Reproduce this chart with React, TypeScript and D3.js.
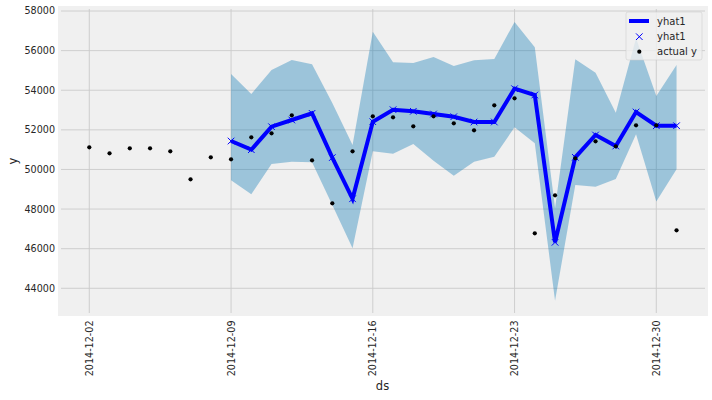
import { useEffect, useRef } from 'react';
import * as d3 from 'd3';

const width = 712;
const height = 400;
const margin = { top: 6, right: 4, bottom: 84, left: 58 };

const actualDates = d3.range(30).map((d) => new Date(Date.UTC(2014, 11, 2 + d)));
const actualY = [
  51118, 50815, 51068, 51068, 50916, 49503, 50613, 50512, 51623, 51825,
  52734, 50462, 48291, 50916, 52683, 52633, 52178, 52683, 52330, 51977,
  53239, 53592, 46776, 48695, 50563, 51421, 51169, 52229, 52229, 46928,
];
const forecastDates = actualDates.slice(7);
const yhat1 = [
  51436, 50997, 52158, 52497, 52835, 50600, 48520, 52411, 53017, 52936,
  52800, 52663, 52396, 52396, 54077, 53759, 46322, 50613, 51739, 51184,
  52901, 52209, 52209,
];
const yhatUpper = [
  54819, 53809, 55021, 55526, 55309, 53355, 51234, 56955, 55410, 55375,
  55677, 55223, 55511, 55576, 57445, 56167, 48050, 55561, 54885, 52865,
  56622, 53708, 55274,
];
const yhatLower = [
  49452, 48745, 50275, 50391, 50361, 48205, 46019, 50916, 50795, 51285,
  50442, 49684, 50391, 50644, 52128, 51320, 43373, 49215, 49129, 49518,
  51775, 48380, 50007,
];
const xTicks = [2, 9, 16, 23, 30].map((d) => new Date(Date.UTC(2014, 11, d)));
const yTicks = [44000, 46000, 48000, 50000, 52000, 54000, 56000, 58000];

const font = '"DejaVu Sans", sans-serif';
const grid = '#cbcbcb';

export default function App() {
  const svgRef = useRef<SVGSVGElement>(null);

  useEffect(() => {
    if (!svgRef.current) return;
    const svg = d3.select(svgRef.current);
    svg.selectAll('*').remove();

    const x = d3
      .scaleUtc()
      .domain([new Date(Date.UTC(2014, 11, 2)), new Date(Date.UTC(2014, 11, 30))])
      .range([89.3, 656.3]);
    const y = d3.scaleLinear().domain([44000, 58000]).range([288.3, 11]);

    const innerRight = width - margin.right;
    const innerBottom = height - margin.bottom;

    svg
      .append('rect')
      .attr('x', margin.left)
      .attr('y', margin.top)
      .attr('width', innerRight - margin.left)
      .attr('height', innerBottom - margin.top)
      .attr('fill', '#f0f0f0');

    // grid goes under the marks, the band is see-through
    const g = svg.append('g').attr('stroke', grid).attr('stroke-width', 0.9);
    g.selectAll('line.h')
      .data(yTicks)
      .join('line')
      .attr('x1', margin.left + 3)
      .attr('x2', innerRight - 3)
      .attr('y1', (d) => y(d))
      .attr('y2', (d) => y(d));
    g.selectAll('line.v')
      .data(xTicks)
      .join('line')
      .attr('x1', (d) => x(d))
      .attr('x2', (d) => x(d))
      .attr('y1', margin.top + 3)
      .attr('y2', innerBottom - 3);

    const area = d3
      .area<number>()
      .x((_, i) => x(forecastDates[i]))
      .y0((_, i) => y(yhatLower[i]))
      .y1((d) => y(d));
    svg
      .append('path')
      .attr('d', area(yhatUpper))
      .attr('fill', '#0072B2')
      .attr('fill-opacity', 0.35);

    const line = d3
      .line<number>()
      .x((_, i) => x(forecastDates[i]))
      .y((d) => y(d));
    svg
      .append('path')
      .attr('d', line(yhat1))
      .attr('fill', 'none')
      .attr('stroke', '#0000ff')
      .attr('stroke-width', 4);

    const cross = (sel: any, px: number, py: number, r: number) =>
      sel
        .append('path')
        .attr('d', `M${px - r},${py - r}L${px + r},${py + r}M${px - r},${py + r}L${px + r},${py - r}`)
        .attr('stroke', '#0000ff')
        .attr('stroke-width', 1)
        .attr('fill', 'none');

    yhat1.forEach((d, i) => cross(svg, x(forecastDates[i]), y(d), 3.3));

    svg
      .append('g')
      .selectAll('circle')
      .data(actualY)
      .join('circle')
      .attr('cx', (_, i) => x(actualDates[i]))
      .attr('cy', (d) => y(d))
      .attr('r', 2.1)
      .attr('fill', '#000');

    // axis labels
    const tickColor = '#262626';
    svg
      .append('g')
      .selectAll('text')
      .data(yTicks)
      .join('text')
      .attr('x', 55)
      .attr('y', (d) => y(d))
      .attr('dy', '0.36em')
      .attr('text-anchor', 'end')
      .attr('font-family', font)
      .attr('font-size', 9.6)
      .attr('fill', tickColor)
      .text((d) => String(d));

    svg
      .append('g')
      .selectAll('text')
      .data(xTicks)
      .join('text')
      .attr('transform', (d) => `translate(${x(d)},320.5) rotate(-90)`)
      .attr('dy', '0.36em')
      .attr('text-anchor', 'end')
      .attr('font-family', font)
      .attr('font-size', 9.6)
      .attr('fill', tickColor)
      .text((d) => d3.utcFormat('%Y-%m-%d')(d));

    svg
      .append('text')
      .attr('x', 382.5)
      .attr('y', 390)
      .attr('text-anchor', 'middle')
      .attr('font-family', font)
      .attr('font-size', 11.5)
      .attr('fill', tickColor)
      .text('ds');
    svg
      .append('text')
      .attr('transform', 'translate(17,161) rotate(-90)')
      .attr('text-anchor', 'middle')
      .attr('font-family', font)
      .attr('font-size', 11.5)
      .attr('fill', tickColor)
      .text('y');

    // legend
    const legend = svg.append('g').attr('transform', 'translate(626,12)');
    legend
      .append('rect')
      .attr('width', 76)
      .attr('height', 48)
      .attr('rx', 2)
      .attr('fill', '#f0f0f0')
      .attr('fill-opacity', 0.8)
      .attr('stroke', '#cccccc')
      .attr('stroke-opacity', 0.8)
      .attr('stroke-width', 0.7);
    legend
      .append('line')
      .attr('x1', 3)
      .attr('x2', 23)
      .attr('y1', 9)
      .attr('y2', 9)
      .attr('stroke', '#0000ff')
      .attr('stroke-width', 4);
    cross(legend, 13.3, 24.7, 3.3);
    legend.append('circle').attr('cx', 13.3).attr('cy', 39.7).attr('r', 2.1).attr('fill', '#000');
    ['yhat1', 'yhat1', 'actual y'].forEach((t, i) => {
      legend
        .append('text')
        .attr('x', 31)
        .attr('y', 9 + i * 15.2)
        .attr('dy', '0.36em')
        .attr('font-family', font)
        .attr('font-size', 10)
        .attr('fill', tickColor)
        .text(t);
    });
  }, []);

  return (
    <svg
      ref={svgRef}
      width={width}
      height={height}
      style={{ position: 'absolute', left: 0, top: 0, background: '#fff' }}
    />
  );
}
